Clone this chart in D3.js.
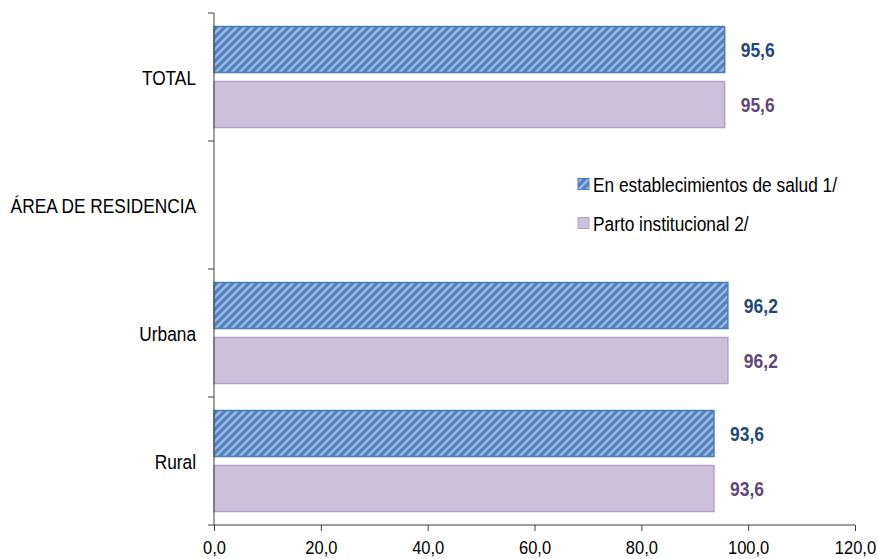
<!DOCTYPE html>
<html>
<head>
<meta charset="utf-8">
<script src="https://cdn.jsdelivr.net/npm/d3@7/dist/d3.min.js"></script>
<style>
  html, body { margin: 0; padding: 0; background: #fff; }
  svg { display: block; font-family: "Liberation Sans", Arial, sans-serif; }
</style>
</head>
<body>
<svg id="chart" width="878" height="559"></svg>
<script>
const categories = ["TOTAL", "ÁREA DE RESIDENCIA", "Urbana", "Rural"];
const seriesNames = ["En establecimientos de salud 1/", "Parto institucional 2/"];
const establecimientos = [95.6, null, 96.2, 93.6];
const institucional = [95.6, null, 96.2, 93.6];
const xTicks = [0, 20, 40, 60, 80, 100, 120];

const mLeft = 214, mRight = 855, mTop = 13, mBottom = 525;
const SY = 1.15; // vertical stretch of text seen in reference

const svg = d3.select("#chart");
const defs = svg.append("defs");
const pat = defs.append("pattern")
  .attr("id", "diag")
  .attr("patternUnits", "userSpaceOnUse")
  .attr("width", 8).attr("height", 8);
pat.append("rect").attr("width", 8).attr("height", 8).attr("fill", "#4F81BD");
pat.append("path")
  .attr("d", "M-2,2 L2,-2 M0,8 L8,0 M6,10 L10,6")
  .attr("stroke", "#9DB9E0").attr("stroke-width", 2.6);

const x = d3.scaleLinear().domain([0, 120]).range([mLeft, mRight]);
const y = d3.scaleBand().domain(categories).range([mTop, mBottom]).padding(0);
const inner = d3.scaleBand().domain([0, 1]).range([0, y.bandwidth()])
  .paddingInner(0.1636).paddingOuter(0.2455);

const series = [
  { name: seriesNames[0], values: establecimientos, fill: "url(#diag)", stroke: "#4A7EBB", label: "#1F497D" },
  { name: seriesNames[1], values: institucional, fill: "#CCC1DA", stroke: "#B3A2C7", label: "#5F497A" }
];

const fmt = v => d3.format(".1f")(v).replace(".", ",");

function stretchedText(parent, tx, ty) {
  return parent.append("text")
    .attr("transform", `translate(${tx},${ty}) scale(1,${SY})`);
}

// bars
series.forEach((s, si) => {
  const g = svg.append("g");
  categories.forEach((c, ci) => {
    const v = s.values[ci];
    if (v == null) return;
    const y0 = y(c) + inner(si);
    g.append("rect")
      .attr("x", x(0)).attr("y", y0)
      .attr("width", x(v) - x(0)).attr("height", inner.bandwidth())
      .attr("fill", s.fill).attr("stroke", s.stroke).attr("stroke-width", 1.5);
    stretchedText(g, x(v) + 16, y0 + inner.bandwidth() / 2 + 0.5)
      .attr("dy", "0.36em")
      .attr("font-size", 17.5).attr("font-weight", "bold")
      .attr("fill", s.label)
      .text(fmt(v));
  });
});

// y axis
const yAxisG = svg.append("g");
yAxisG.append("line").attr("x1", mLeft).attr("x2", mLeft).attr("y1", mTop).attr("y2", mBottom)
  .attr("stroke", "#404040").attr("stroke-width", 1);
const bounds = categories.map(c => y(c)).concat([y(categories[categories.length - 1]) + y.bandwidth()]);
bounds.forEach(b => {
  yAxisG.append("line").attr("x1", mLeft - 6).attr("x2", mLeft).attr("y1", b).attr("y2", b)
    .attr("stroke", "#404040").attr("stroke-width", 1);
});
categories.forEach(c => {
  stretchedText(yAxisG, 196, y(c) + y.bandwidth() / 2 + 0.5)
    .attr("dy", "0.36em").attr("text-anchor", "end")
    .attr("font-size", 17.3).attr("fill", "#000")
    .text(c);
});

// x axis
const xAxis = d3.axisBottom(x).tickValues(xTicks).tickSize(6).tickFormat(fmt);
const xg = svg.append("g").attr("transform", `translate(0,${mBottom})`).call(xAxis);
xg.select(".domain").attr("stroke", "#404040").attr("d", `M${mLeft},0H${mRight}`);
xg.selectAll(".tick line").attr("stroke", "#404040");
xg.selectAll(".tick text")
  .attr("font-size", 16.5).attr("fill", "#000")
  .attr("y", 0).attr("dy", "0.71em")
  .attr("transform", `translate(0,16) scale(1,${SY})`);

// legend
const legend = svg.append("g");
series.forEach((s, i) => {
  const ly = 184 + i * 39;
  legend.append("rect").attr("x", 578).attr("y", ly - 5.5).attr("width", 11).attr("height", 11)
    .attr("fill", s.fill).attr("stroke", s.stroke).attr("stroke-width", 1);
  stretchedText(legend, 593, ly + 0.5).attr("dy", "0.36em")
    .attr("font-size", 17.3).attr("fill", "#000").text(s.name);
});
</script>
</body>
</html>
